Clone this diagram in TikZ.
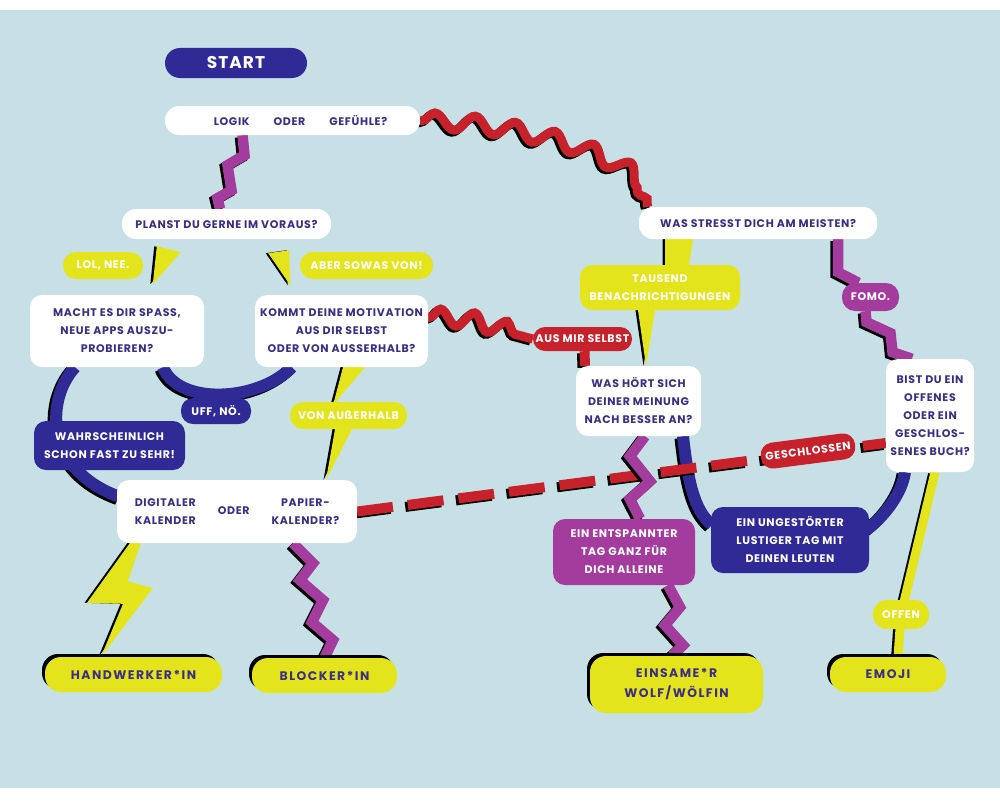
\documentclass[tikz,border=0pt]{standalone}
\usepackage{fontspec}
\setmainfont{Poppins}[LetterSpace=6]
\usetikzlibrary{decorations.pathmorphing}

\definecolor{paper}{HTML}{C7E0E6}
\definecolor{inkblue}{HTML}{2F2A96}
\definecolor{lemon}{HTML}{E4E41C}
\definecolor{plum}{HTML}{A43C9E}
\definecolor{berry}{HTML}{C7212B}
\definecolor{textblue}{HTML}{3A2E86}

\newcommand\qfont{\bfseries\fontsize{11}{18}\selectfont}
\newcommand\finalfont{\bfseries\addfontfeatures{LetterSpace=12}\fontsize{12.4}{20}\selectfont}

\pgfdeclarelayer{back}
\pgfdeclarelayer{wires}
\pgfsetlayers{back,wires,main}

\tikzset{
  shadowed/.style={preaction={draw=black, line width=#1, transform canvas={shift={(-2.5pt,-2pt)}}}},
  zig/.style={draw=plum, line width=10.5pt, shadowed=10.5pt},
  arcline/.style={draw=inkblue, line width=12pt, shadowed=12pt},
  wave/.style={draw=berry, line width=9pt, shadowed=9pt, decorate,
    decoration={snake, segment length=#1, amplitude=8pt, pre length=2pt, post length=3pt}},
  wave/.default=40pt,
  dashline/.style={draw=berry, line width=10pt, dash pattern=on 36pt off 15pt,
    preaction={draw=black, line width=10pt, dash pattern=on 36pt off 15pt,
      transform canvas={shift={(-2.5pt,-2pt)}}}},
  beam/.style={draw=lemon, line width=9pt, shadowed=9pt},
  bolt/.style={fill=lemon, preaction={fill=black, transform canvas={shift={(-2.5pt,0pt)}}}},
  card/.style={rounded corners=12pt, inner sep=0pt, align=center, font=\qfont},
  question/.style={card, fill=white, text=textblue},
  tag/.style={card, fill=#1, text=white},
  final/.style={rounded corners=16pt, inner sep=0pt, align=center, fill=lemon,
    text=textblue, font=\finalfont,
    preaction={fill=black, transform canvas={shift={(-3pt,3pt)}}}},
}

\begin{document}
\begin{tikzpicture}[x=1pt, y=-1pt]
% Page
\begin{pgfonlayer}{back}
\fill[white] (0,0) rectangle (1000,800);
\fill[paper] (0,10) rectangle (1000,788);
\end{pgfonlayer}

% Start and questions
\node[tag=inkblue, rounded corners=15pt, minimum width=142pt, minimum height=30pt,
  font=\bfseries\addfontfeatures{LetterSpace=6}\fontsize{17}{17}\selectfont] (start) at (236,63) {START};
\node[question, rounded corners=14pt, minimum width=255pt, minimum height=29pt] (logik) at (292.5,120.5)
  {\hspace*{16pt}LOGIK\hspace{24pt}ODER\hspace{24pt}GEFÜHLE?};
\node[question, rounded corners=14pt, minimum width=209pt, minimum height=30pt] (plan) at (226.5,224)
  {PLANST DU GERNE IM VORAUS?};
\node[question, minimum width=174pt, minimum height=72pt] (macht) at (117,331)
  {MACHT ES DIR SPASS,\\NEUE APPS AUSZU-\\PROBIEREN?};
\node[question, minimum width=173pt, minimum height=72pt] (kommt) at (341.5,331)
  {KOMMT DEINE MOTIVATION\\AUS DIR SELBST\\ODER VON AUSSERHALB?};
\node[question, align=none, minimum width=240pt, minimum height=63pt] (digi) at (237,511.5)
  {\begin{tabular}{@{}c@{}}DIGITALER\\KALENDER\end{tabular}\hspace{22pt}ODER\hspace{22pt}%
   \begin{tabular}{@{}c@{}}PAPIER-\\KALENDER?\end{tabular}};
\node[question, rounded corners=14pt, minimum width=238pt, minimum height=32pt] (stress) at (758,223)
  {WAS STRESST DICH AM MEISTEN?};
\node[question, minimum width=125pt, minimum height=70pt] (hoert) at (638.5,401)
  {WAS HÖRT SICH\\DEINER MEINUNG\\NACH BESSER AN?};
\node[question, minimum width=88pt, minimum height=113pt] (buch) at (930,415.5)
  {BIST DU EIN\\OFFENES\\ODER EIN\\GESCHLOS-\\SENES BUCH?};

% Answers
\node[tag=lemon, rounded corners=13pt, minimum width=80pt, minimum height=27pt] (lol) at (103,265.5) {LOL, NEE.};
\node[tag=lemon, rounded corners=13pt, minimum width=133pt, minimum height=27pt] (aber) at (366.5,265.5) {ABER SOWAS VON!};
\node[tag=inkblue, rounded corners=12pt, minimum width=70pt, minimum height=26pt] (uff) at (216,411) {UFF, NÖ.};
\node[tag=lemon, rounded corners=13pt, minimum width=117pt, minimum height=27pt] (vonaus) at (348.5,415.5) {VON AUßERHALB};
\node[tag=inkblue, minimum width=151pt, minimum height=49pt] (wahr) at (109.5,445.5)
  {WAHRSCHEINLICH\\SCHON FAST ZU SEHR!};
\node[tag=lemon, minimum width=160pt, minimum height=45pt] (tausend) at (660,287.5)
  {TAUSEND\\BENACHRICHTIGUNGEN};
\node[tag=plum, rounded corners=13pt, minimum width=57pt, minimum height=28pt] (fomo) at (870.5,297) {FOMO.};
\node[tag=berry, rounded corners=12pt, minimum width=99pt, minimum height=24pt] (selbst) at (582.5,339) {AUS MIR SELBST};
\node[tag=berry, rounded corners=12pt, minimum width=95pt, minimum height=26pt, rotate=7.4] (geschl) at (808,451) {GESCHLOSSEN};
\node[tag=plum, minimum width=142pt, minimum height=66pt] (entsp) at (624,552)
  {EIN ENTSPANNTER\\TAG GANZ FÜR\\DICH ALLEINE};
\node[tag=inkblue, minimum width=158pt, minimum height=66pt] (unge) at (790,540)
  {EIN UNGESTÖRTER\\LUSTIGER TAG MIT\\DEINEN LEUTEN};
\node[tag=lemon, rounded corners=14pt, minimum width=56pt, minimum height=29pt] (offen) at (901,614.5) {OFFEN};

% Results
\node[final, minimum width=177pt, minimum height=35pt] (hand) at (133.5,674.5) {HANDWERKER*IN};
\node[final, minimum width=145pt, minimum height=35pt] (block) at (324.5,675.5) {BLOCKER*IN};
\node[final, minimum width=173pt, minimum height=57pt] (wolf) at (676.5,684.5) {EINSAME*R\\WOLF/WÖLFIN};
\node[final, minimum width=116pt, minimum height=35pt] (emoji) at (888,674.5) {EMOJI};

% Connectors
\begin{pgfonlayer}{wires}
% blue arcs
\draw[arcline] ([xshift=46pt]macht.south) .. controls +(15,38) and +(-35,35) .. ([xshift=-49.5pt]kommt.south);
\draw[arcline] ([xshift=-42pt]macht.south) .. controls +(-30,33) and +(-75,-27) .. ([shift={(3,-14.5)}]digi.west);
\draw[arcline] ([xshift=44.5pt]hoert.south) .. controls +(5,45) and +(-18,-15) .. ([shift={(1,-15)}]unge.west);
\draw[arcline] ([shift={(-3,-10)}]unge.east) .. controls +(20,-15) and +(-3,20) .. ([xshift=-25pt]buch.south);

% red waves and dashes
\draw[wave] (logik.east) .. controls +(100,3) and +(-8,-48) .. ([xshift=9pt]stress.north west);
\draw[wave=33pt] ([shift={(0,-14)}]kommt.east) .. controls +(40,0) and +(-40,-10) .. (selbst.west);
\draw[draw=berry, line width=10pt, shadowed=10pt] ([xshift=2pt]selbst.south) -- ([xshift=-53.5pt]hoert.north);
\draw[dashline] (digi.east) -- ([shift={(0,27.5)}]buch.west);

% magenta zigzags
\draw[zig] ([xshift=-50pt]logik.south) -- ++(2,20) -- ++(-17,10) -- ++(4,25) -- ++(-14,8) -- ([xshift=-6.5pt]plan.north);
\draw[zig] ([xshift=56pt]digi.south) -- ++(20,20) -- ++(-13,17) -- ++(23,20) -- ++(-11,22) -- ++(21,18) -- (block.north);
\draw[zig] ([xshift=80pt]stress.south) -- ++(0,33) -- ([xshift=-12pt]fomo.north);
\draw[zig] ([xshift=-5pt]fomo.south) -- ++(1,11) -- ++(24,11) -- ++(2,19) -- ([xshift=-18pt]buch.north);
\draw[zig] ([xshift=6.5pt]hoert.south) -- ++(-15,20) -- ++(20,25) -- ++(-20,18) -- ([xshift=16pt]entsp.north);
\draw[zig] ([xshift=44pt]entsp.south) -- ++(12,22) -- ++(-15,18) -- ++(18,20) -- ([xshift=-4.5pt]wolf.north);

% yellow bolts
\fill[bolt] ([shift={(35,7)}]plan.south west) -- ++(24,6) -- ++(-28,32) -- cycle;
\fill[bolt] ([shift={(-63,14)}]plan.south east) -- ++(21,-3) -- ++(1,35) -- cycle;
\fill[bolt] ([xshift=1.5pt]kommt.south) -- ++(22,0) -- ++(-32,38) -- cycle;
\fill[bolt] ([xshift=-13.5pt]vonaus.south) -- ++(17,0) -- ([xshift=89pt]digi.north) -- cycle;
\fill[bolt] ([xshift=-93pt]stress.south) -- ++(28,0) -- ([xshift=29pt]tausend.north) -- ([xshift=5pt]tausend.north) -- cycle;
\fill[bolt] ([xshift=-22pt]tausend.south) -- ++(17,0) -- ([xshift=7.5pt]hoert.north) -- cycle;
\fill[bolt] ([xshift=13pt]digi.south west) -- ++(11,0) -- ++(-13,38) -- ++(25,7) -- ([xshift=-32.5pt]hand.north) -- ++(22,-53) -- ++(-36,-1) -- cycle;
\draw[beam] ([xshift=5pt]buch.south) -- (offen.center) -- ([xshift=10pt]emoji.north);
\end{pgfonlayer}
\end{tikzpicture}
\end{document}
